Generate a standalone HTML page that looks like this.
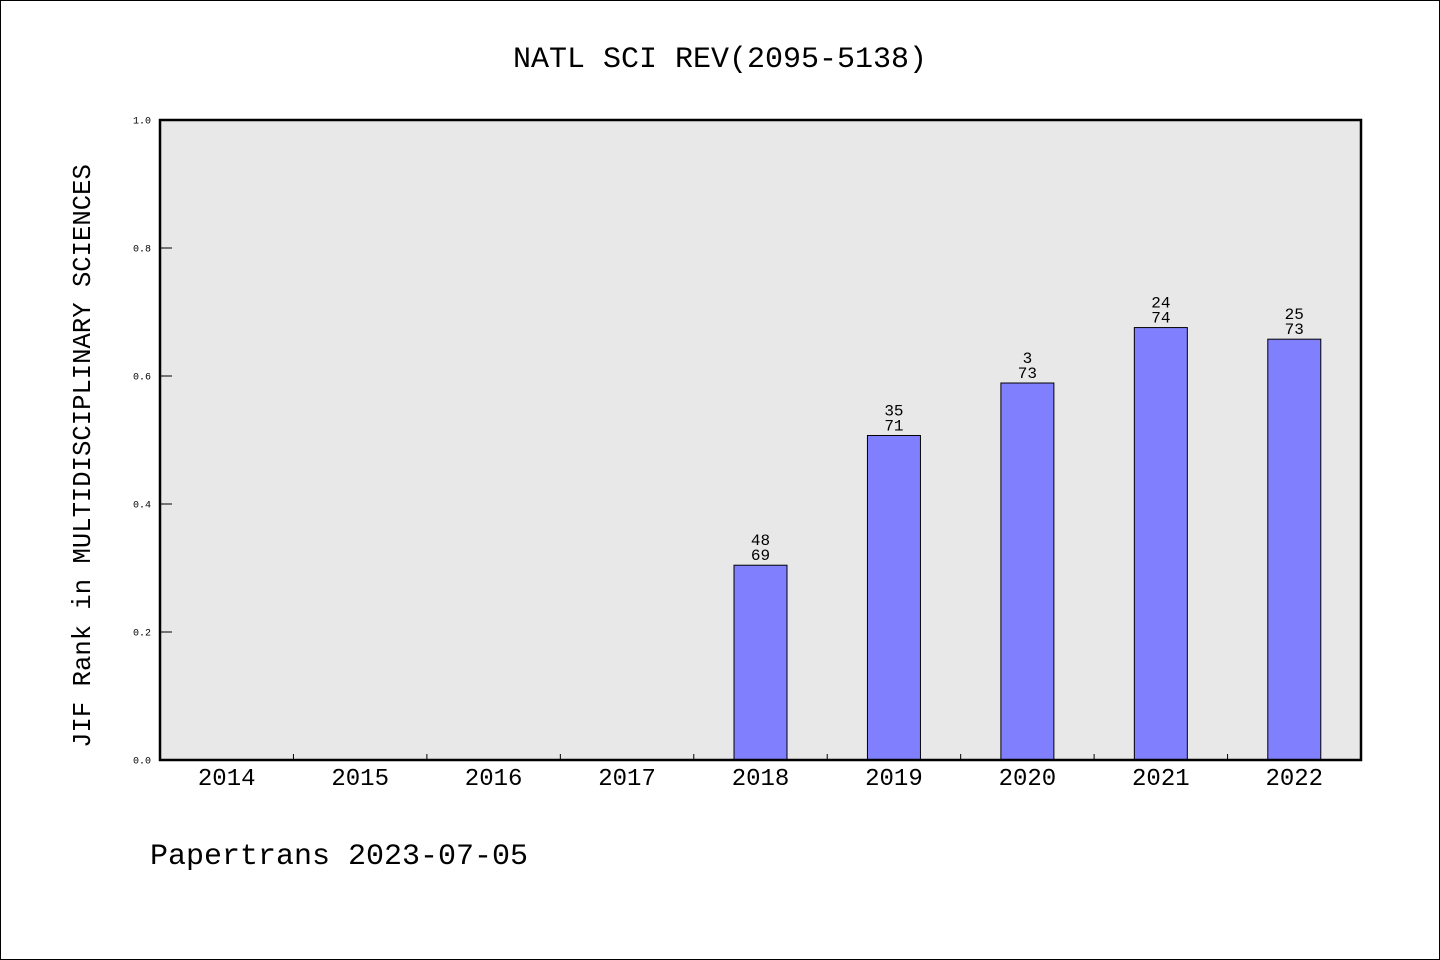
<!DOCTYPE html>
<html><head><meta charset="utf-8">
<style>
html,body{margin:0;padding:0;background:#fff;}
svg{display:block;font-family:"Liberation Mono","WenQuanYi Zen Hei",monospace;}
</style></head>
<body>
<svg id="chart" width="1440" height="960" xmlns="http://www.w3.org/2000/svg">
<rect x="0.5" y="0.5" width="1439" height="959" fill="#fff" stroke="#000"/>
<text x="720" y="67" font-size="30" text-anchor="middle">NATL SCI REV(2095-5138)</text>
<rect x="160" y="120" width="1201" height="640" fill="#e8e8e8"/>
<g id="marks"></g>
<rect x="160" y="120" width="1201" height="640" fill="none" stroke="#000" stroke-width="2.5"/>
<text transform="translate(90,456) rotate(-90)" font-size="25.6" text-anchor="middle">JIF Rank in MULTIDISCIPLINARY SCIENCES</text>
<text x="150" y="864" font-size="30">Papertrans 2023-07-05</text>
</svg>
<script>
const categories = ["2014","2015","2016","2017","2018","2019","2020","2021","2022"];
const ranks = [null,null,null,null,48,35,30,24,25];
const rankLabels = ["","","","","48","35","3","24","25"];
const totals = [null,null,null,null,69,71,73,74,73];
const yTicks = [0.0,0.2,0.4,0.6,0.8,1.0];

const NS="http://www.w3.org/2000/svg";
const g=document.getElementById('marks');
const x0=160,x1=1361,y0=760,y1=120;
const band=(x1-x0)/categories.length;
const xC=i=>x0+band*(i+0.5);
const yS=v=>y0-(y0-y1)*v;
function el(t,a){const e=document.createElementNS(NS,t);for(const k in a)e.setAttribute(k,a[k]);g.appendChild(e);return e;}

yTicks.forEach(v=>{
  const l=el('line',{x1:160,x2:172,y1:yS(v),y2:yS(v),stroke:'#000','stroke-width':1});
  
  
  const t=el('text',{x:151,y:yS(v)+3.5,'font-size':10,'text-anchor':'end'});
  t.textContent=v.toFixed(1);
  
  
});
categories.forEach((c,i)=>{
  if(i>0){
    const l=el('line',{x1:x0+band*i,x2:x0+band*i,y1:760,y2:754,stroke:'#000','stroke-width':1});
    
    
  }
  const t=el('text',{x:xC(i),y:785,'font-size':24,'text-anchor':'middle'});
  t.textContent=c;
  
  
  if(ranks[i]!=null){
    const v=1-ranks[i]/totals[i];
    const bw=53;
    const r=el('rect',{x:xC(i)-bw/2,y:yS(v),width:bw,height:y0-yS(v),fill:'#8080ff',stroke:'#000','stroke-width':1});
    
    
    const a=el('text',{x:xC(i),y:yS(v)-20,'font-size':16,'text-anchor':'middle'});
    a.textContent=rankLabels[i];
    
    
    const b=el('text',{x:xC(i),y:yS(v)-5,'font-size':16,'text-anchor':'middle'});
    b.textContent=totals[i];
    
    
  }
});
</script>
</body></html>
